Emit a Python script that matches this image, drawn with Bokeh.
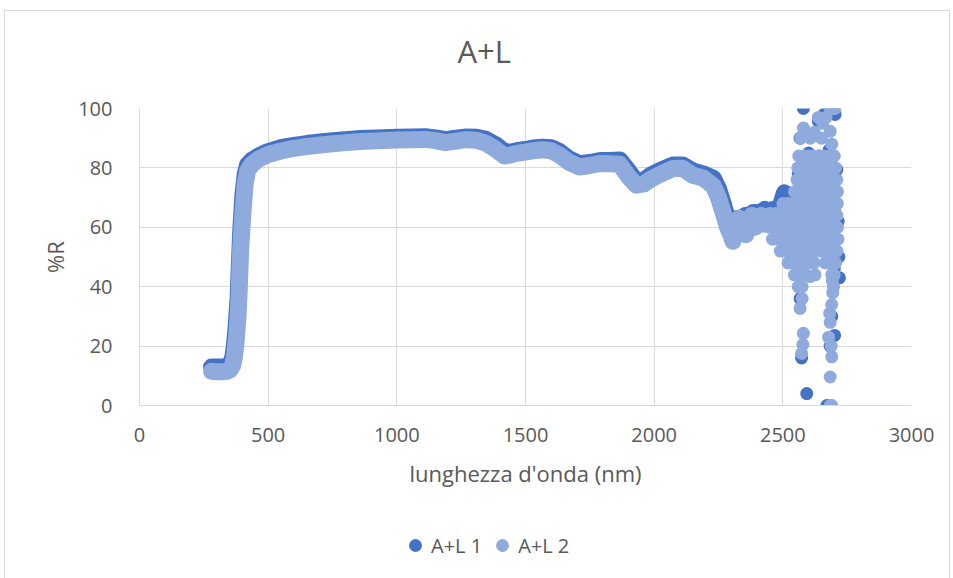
from bokeh.plotting import figure
from bokeh.layouts import column
from bokeh.models import Range1d, FixedTicker, Legend, LegendItem, Label
from bokeh.embed import file_html
from bokeh.resources import INLINE

# ---------------- data ----------------
chart_title = "A+L"
# smooth part of the spectra (nm, %R)
curve_wl = [280, 300, 320, 340, 352, 362, 369, 376, 383, 388, 393, 402, 411, 420, 435,
            463, 500, 550, 600, 650, 720, 800, 860, 920, 1000, 1060, 1110, 1150, 1190,
            1230, 1270, 1310, 1346, 1380, 1418, 1440, 1465, 1500, 1530, 1567, 1600, 1632,
            1670, 1710, 1750, 1790, 1830, 1866, 1900, 1930, 1960, 1985, 2020, 2073, 2110,
            2150, 2190, 2230, 2250, 2268, 2285, 2300]
curve_r1 = [13, 13, 13, 13.2, 13.8, 16, 20, 27, 36, 47, 58, 71, 78, 81, 82.5,
            84, 85.5, 86.8, 87.6, 88.2, 88.9, 89.5, 89.9, 90.1, 90.3, 90.4, 90.5, 90.1, 89.5,
            90, 90.4, 90.3, 89.6, 88, 85.5, 85.3, 85.8, 86.2, 86.7, 87, 86.8, 85.5,
            83, 81.4, 81.8, 82.5, 82.5, 82.7, 79, 75.5, 75.8, 77.5, 79, 81, 81,
            79, 78, 76.5, 73, 68, 63, 60]
curve_r2 = [11.5, 11.4, 11.4, 11.5, 12, 13.5, 16.4, 22, 29.9, 40, 52.4, 65, 74.9, 79, 81,
            83, 84.5, 85.7, 86.6, 87.2, 87.9, 88.5, 88.9, 89.1, 89.4, 89.5, 89.6, 89.2, 88.5,
            89.0, 89.5, 89.3, 88.3, 86.5, 84.0, 84.3, 84.9, 85.3, 85.8, 86.1, 85.8, 84.3,
            81.9, 80.3, 80.8, 81.5, 81.4, 81.2, 77.1, 74.2, 74.6, 76.1, 77.7, 79.8, 79.9,
            77.5, 76.6, 73.9, 70, 65, 60, 57]

# noisy band 2300-2500 nm
noise_wl1 = [2310, 2325, 2340, 2355, 2370, 2385, 2400, 2415, 2430, 2445, 2460, 2475, 2490, 2506]
noise_r1 = [62, 63, 62, 64, 64, 65, 65, 65, 66, 65, 66, 66, 67, 71.6]
noise_wl2 = [2306, 2318, 2330, 2342, 2356, 2368, 2380, 2392, 2404, 2416, 2428, 2440, 2452,
             2464, 2476, 2488]
noise_r2 = [55.3, 60, 63, 60, 57.5, 62, 64, 60, 62, 64, 61, 63, 64, 62, 64, 62]

# scattered points above 2440 nm
chaos_wl1 = [2520, 2540, 2560, 2567, 2567, 2573, 2580, 2593, 2600, 2620, 2638, 2650, 2660,
             2671, 2684, 2684, 2690, 2700, 2700, 2703, 2710, 2715, 2718, 2701, 2720, 2697,
             2690, 2600, 2640, 2680, 2560, 2620, 2660]
chaos_r1 = [66, 60, 78, 90, 36, 16, 100, 4, 70, 58, 95.7, 70, 98,
            0, 0, 20, 30, 46, 66, 98, 79.4, 62, 50, 23.6, 43, 69,
            51, 85, 84, 86, 55, 48, 60]
chaos_wl2 = [2580, 2638, 2655, 2668, 2684, 2697, 2703,
             2570, 2585, 2606, 2622, 2650, 2684, 2690,
             2562, 2582, 2600, 2620, 2640, 2660, 2680, 2700,
             2558, 2575, 2595, 2615, 2635, 2655, 2675, 2695, 2705,
             2555, 2572, 2590, 2610, 2630, 2650, 2670, 2690, 2710,
             2545, 2565, 2585, 2605, 2625, 2645, 2665, 2685, 2705, 2712,
             2500, 2520, 2540, 2560, 2580, 2600, 2620, 2640, 2660, 2680, 2700, 2712,
             2470, 2490, 2510, 2530, 2550, 2570, 2590, 2610, 2630, 2650, 2670, 2690, 2710,
             2450, 2470, 2490, 2510, 2530, 2550, 2570, 2590, 2610, 2630, 2650, 2670, 2690, 2712,
             2460, 2480, 2500, 2520, 2540, 2560, 2580, 2600, 2620, 2640, 2660, 2680, 2700, 2714,
             2490, 2510, 2530, 2550, 2570, 2590, 2610, 2630, 2650, 2670, 2690, 2710,
             2520, 2540, 2560, 2580, 2600, 2620, 2665, 2685, 2705,
             2545, 2565, 2590, 2606, 2625, 2690, 2700,
             2560, 2575, 2697,
             2567, 2580, 2573, 2578, 2575, 2690, 2684, 2678, 2690, 2684, 2690, 2684,
             2694, 2682, 2688, 2692]
chaos_r2 = [93.4, 97, 95, 97, 100, 100, 100,
            90, 91, 90, 92, 90, 92.3, 88,
            84, 84, 84, 84, 84, 84, 84, 84,
            80, 80, 80, 80, 80, 80, 80, 80, 80,
            76, 76, 76, 76, 76, 76, 76, 76, 76,
            72, 72, 72, 72, 72, 72, 72, 72, 72, 72,
            68, 68, 68, 68, 68, 68, 68, 68, 68, 68, 68, 68,
            64, 64, 64, 64, 64, 64, 64, 64, 64, 64, 64, 64, 64,
            60, 60, 60, 60, 60, 60, 60, 60, 60, 60, 60, 60, 60, 60,
            56, 56, 56, 56, 56, 56, 56, 56, 56, 56, 56, 56, 56, 56,
            52, 52, 52, 52, 52, 52, 52, 52, 52, 52, 52, 52,
            48, 48, 48, 48, 48, 48, 48, 48, 48,
            44, 44, 44, 43.4, 44, 44, 44,
            40, 40, 40,
            32.7, 24.3, 17.5, 20.5, 36, 34, 28, 23, 16.4, 9.6, 0, 0,
            38, 31, 20, 42]

series_names = ["A+L 1", "A+L 2"]
series_colors = ["#4472C4", "#8FAADC"]
x_ticks = [0, 500, 1000, 1500, 2000, 2500, 3000]
y_ticks = [0, 20, 40, 60, 80, 100]

FONT = "Open Sans"
TXT = "#595959"
GRID = "#d9d9d9"

# ---------------- title strip ----------------
tf = figure(width=944, height=60, x_range=Range1d(0, 1), y_range=Range1d(0, 1),
            output_backend="svg", toolbar_location=None,
            x_axis_type=None, y_axis_type=None, min_border=0)
tf.outline_line_color = None
tf.grid.visible = False
tf.background_fill_color = "white"
tf.border_fill_color = "white"
tf.add_layout(Label(x=318, y=21, x_units="screen", y_units="screen", text=chart_title,
                    text_font=FONT, text_font_size="31px", text_color=TXT,
                    text_baseline="alphabetic"))

# ---------------- main figure ----------------
p = figure(width=944, height=449, x_range=Range1d(0, 3000), y_range=Range1d(0, 100),
           output_backend="svg", toolbar_location=None,
           min_border_left=134, min_border_right=38, min_border_top=37,
           min_border_bottom=115)
p.outline_line_color = None
p.background_fill_color = "white"
p.border_fill_color = "white"

for ax in (p.xaxis[0], p.yaxis[0]):
    ax.axis_line_color = GRID
    ax.major_tick_line_color = None
    ax.minor_tick_line_color = None
    ax.major_tick_out = 0
    ax.major_tick_in = 0
    ax.major_label_text_font = FONT
    ax.major_label_text_font_size = "20px"
    ax.major_label_text_color = TXT
    ax.axis_label_text_font = FONT
    ax.axis_label_text_font_size = "22px"
    ax.axis_label_text_font_style = "normal"
    ax.axis_label_text_color = TXT

p.xaxis.ticker = FixedTicker(ticks=x_ticks)
p.yaxis.ticker = FixedTicker(ticks=y_ticks)
p.xaxis.axis_label = "lunghezza d'onda (nm)"
p.yaxis.axis_label = "%R"
p.xaxis.major_label_standoff = 22
p.yaxis.major_label_standoff = 27
p.xaxis.axis_label_standoff = 13
p.yaxis.axis_label_standoff = 5

p.xgrid.ticker = FixedTicker(ticks=x_ticks)
p.ygrid.ticker = FixedTicker(ticks=y_ticks)
p.xgrid.grid_line_color = GRID
p.ygrid.grid_line_color = GRID

c1, c2 = series_colors
line1_x = curve_wl + noise_wl1
line1_y = curve_r1 + noise_r1
line2_x = curve_wl + noise_wl2
line2_y = curve_r2 + noise_r2

p.line(line1_x, line1_y, line_width=17, color=c1, line_join="round", line_cap="round")
p.scatter(line1_x + chaos_wl1, line1_y + chaos_r1, size=13, color=c1, line_color=None)
p.line(line2_x, line2_y, line_width=17, color=c2, line_join="round", line_cap="round")
p.scatter(line2_x + chaos_wl2, line2_y + chaos_r2, size=13, color=c2, line_color=None)

# ---------------- legend strip ----------------
lf = figure(width=944, height=58, x_range=Range1d(0, 1), y_range=Range1d(0, 1),
            output_backend="svg", toolbar_location=None,
            x_axis_type=None, y_axis_type=None, min_border=0)
lf.outline_line_color = None
lf.grid.visible = False
lf.background_fill_color = "white"
lf.border_fill_color = "white"
nan = float("nan")
k1 = lf.scatter(x=[nan], y=[nan], size=13, color=c1, line_color=None)
k2 = lf.scatter(x=[nan], y=[nan], size=13, color=c2, line_color=None)
legend = Legend(items=[LegendItem(label=series_names[0], renderers=[k1]),
                       LegendItem(label=series_names[1], renderers=[k2])],
                orientation="horizontal", location=(260, 17),
                background_fill_alpha=0, border_line_alpha=0, padding=0, margin=0,
                glyph_width=32, glyph_height=32, label_standoff=0, spacing=4,
                label_text_font=FONT, label_text_font_size="20px", label_text_color=TXT)
lf.add_layout(legend)

layout = column(tf, p, lf, spacing=0)
layout.styles = {"border": "1px solid #d9d9d9", "margin-left": "4px", "margin-top": "10px"}

open("out.html", "w").write(file_html(layout, INLINE))
